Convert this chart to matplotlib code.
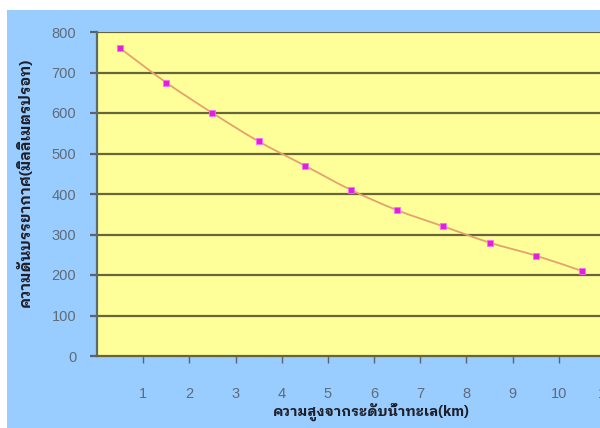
import matplotlib
matplotlib.use("Agg")
import matplotlib.pyplot as plt
import numpy as np
from matplotlib.path import Path
from matplotlib.patches import PathPatch, Rectangle

# Atmospheric pressure (mmHg) versus altitude above sea level (km)
altitude_km = [0.5, 1.5, 2.5, 3.5, 4.5, 5.5, 6.5, 7.5, 8.5, 9.5, 10.5]
pressure_mmhg = [760, 675, 600, 530, 470, 410, 360, 320, 280, 248, 210]
x_ticks = [1, 2, 3, 4, 5, 6, 7, 8, 9, 10, 11]
y_ticks = [0, 100, 200, 300, 400, 500, 600, 700, 800]

x_label = "ความสูงจากระดับน้ำทะเล(km)"
y_label = "ความดันบรรยากาศ(มิลลิเมตรปรอท)"

thai_font = ["IBM Plex Sans Thai Looped", "Noto Sans Thai Looped", "DejaVu Sans"]
num_font = ["Liberation Sans", "DejaVu Sans"]

BG_BLUE = "#99CCFF"
PLOT_YELLOW = "#FFFF99"
GRID = "#66663A"
LINE = "#E3A26E"
MARKER = "#E020E0"
TICK_TXT = "#5E6C7A"

fig = plt.figure(figsize=(6, 4.28), dpi=100, facecolor="white")
fig.patches.append(Rectangle((7 / 600, 0), 1, 1 - 10 / 428, transform=fig.transFigure,
                             facecolor=BG_BLUE, edgecolor="none", zorder=-10))

ax = fig.add_axes([97 / 600, 72 / 428, 508 / 600, 324 / 428])
ax.set_facecolor(PLOT_YELLOW)
ax.set_xlim(0, 11)
ax.set_ylim(0, 800)

# smooth curve through the data (Catmull-Rom as cubic Bezier segments)
pts = np.column_stack([altitude_km, pressure_mmhg]).astype(float)
verts = [tuple(pts[0])]
codes = [Path.MOVETO]
n = len(pts)
for i in range(n - 1):
    p0 = pts[i - 1] if i > 0 else pts[i]
    p1, p2 = pts[i], pts[i + 1]
    p3 = pts[i + 2] if i + 2 < n else pts[i + 1]
    c1 = p1 + (p2 - p0) / 6.0
    c2 = p2 - (p3 - p1) / 6.0
    verts += [tuple(c1), tuple(c2), tuple(p2)]
    codes += [Path.CURVE4] * 3
ax.add_patch(PathPatch(Path(verts, codes), facecolor="none", edgecolor=LINE,
                       lw=1.3, zorder=3))
ax.plot(altitude_km, pressure_mmhg, ls="none", marker="s", ms=4.5,
        mfc=MARKER, mec="#FF66FF", mew=0.6, zorder=4)

for y in y_ticks[1:]:
    ax.axhline(y, color=GRID, lw=1.6, zorder=1)

for s in ["top", "right"]:
    ax.spines[s].set_visible(False)
ax.spines["left"].set_color("#5A6A70")
ax.spines["left"].set_linewidth(1.6)
ax.spines["bottom"].set_color(GRID)
ax.spines["bottom"].set_linewidth(1.6)

ax.set_xticks(x_ticks)
ax.set_yticks(y_ticks)
ax.set_xticklabels([str(v) for v in x_ticks], fontfamily=num_font, fontsize=10.5, color=TICK_TXT)
ax.set_yticklabels([str(v) for v in y_ticks], fontfamily=num_font, fontsize=10.5, color=TICK_TXT)
ax.tick_params(axis="x", direction="out", length=5, width=1.0, color="#5A6470", pad=17)
ax.tick_params(axis="y", direction="out", length=5, width=1.6, color="#5A6470", pad=10)

fig.text(371 / 600, 1 - 412 / 428, x_label, ha="center", va="center",
         fontfamily=thai_font, fontweight="bold", fontsize=10.3, color="#1E1E28")
fig.text(25 / 600, 1 - 182 / 428, y_label, ha="center", va="center", rotation=90,
         fontfamily=thai_font, fontweight="bold", fontsize=10.8, color="#1E1E28")

fig.savefig("out.png", dpi=100, facecolor=fig.get_facecolor())
